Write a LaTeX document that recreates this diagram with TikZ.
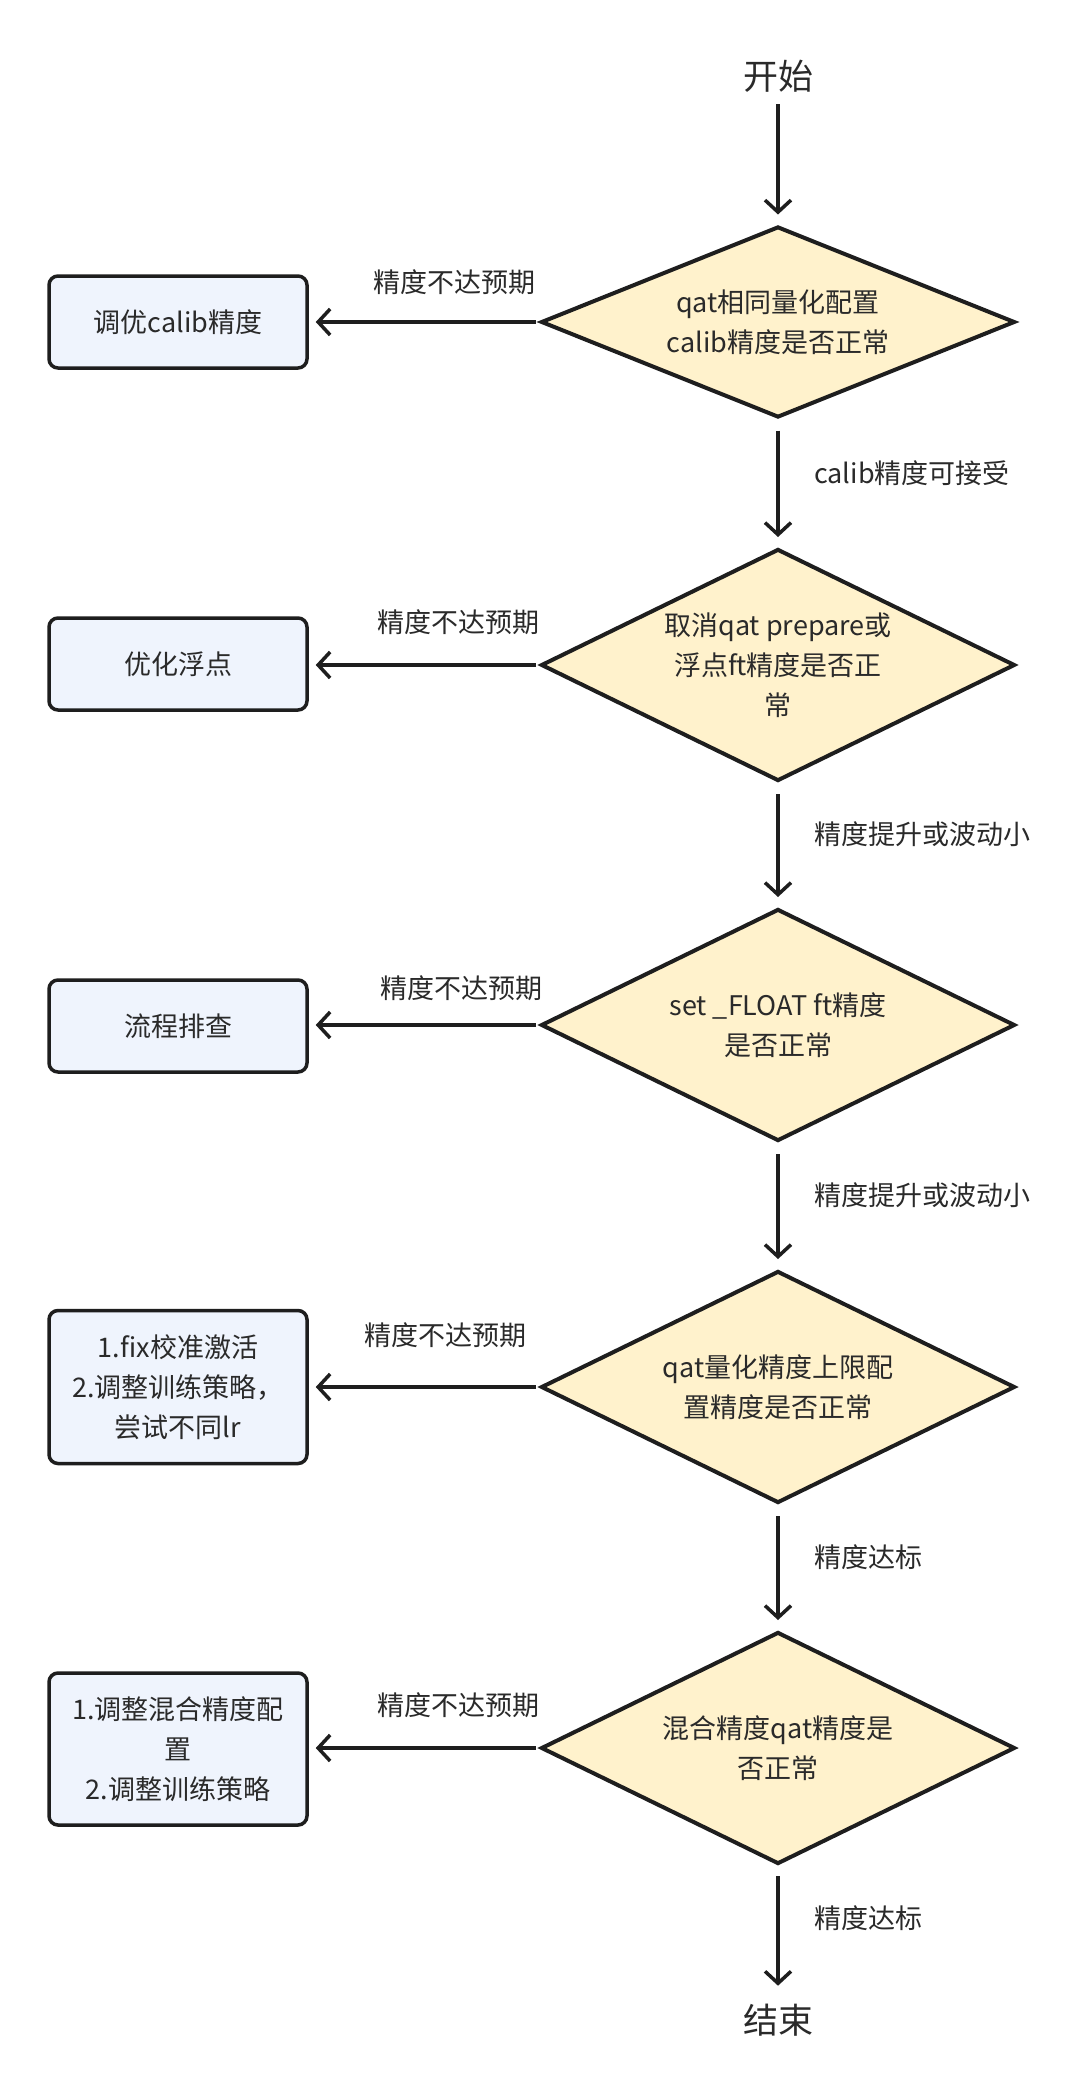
\documentclass[tikz,border=0pt]{standalone}
\usepackage{fontspec}
\setmainfont{Noto Sans CJK SC}
\usetikzlibrary{shapes.geometric,arrows.meta}
\definecolor{dfill}{HTML}{FFF2CC}
\definecolor{bfill}{HTML}{EFF4FD}
\definecolor{ink}{HTML}{1E1E1E}
\definecolor{txt}{HTML}{2A2A2A}
\begin{document}
\begin{tikzpicture}[x=1pt,y=-1pt,
  every node/.style={text=txt, font=\fontsize{27}{40}\selectfont},
  dec/.style={shape=diamond, aspect=2.04, draw=ink, fill=dfill, line width=4pt, minimum width=474pt, minimum height=232pt, inner sep=0pt, align=center},
  act/.style={rectangle, rounded corners=9pt, draw=ink, fill=bfill, line width=3.5pt, minimum width=258pt, align=center},
  arr/.style={draw=ink, line width=3.5pt, -{Straight Barb[length=12pt,width=26pt]}},
  lbl/.style={inner sep=0pt},
  term/.style={inner sep=0pt, font=\fontsize{35}{40}\selectfont},
]
\fill[white] (0,0) rectangle (1088,2092);
\useasboundingbox (0,0) rectangle (1088,2092);

\node[term] (start) at (778,76) {开始};
\node[term] (end) at (778,2020) {结束};

\node[dec, minimum height=191pt] (d1) at (778,322) {qat相同量化配置\\calib精度是否正常};
\node[dec] (d2) at (778,665) {取消qat prepare或\\浮点ft精度是否正\\常};
\node[dec] (d3) at (778,1025) {set \_FLOAT ft精度\\是否正常};
\node[dec] (d4) at (778,1387) {qat量化精度上限配\\置精度是否正常};
\node[dec] (d5) at (778,1748) {混合精度qat精度是\\否正常};

\node[act, minimum height=92pt] (b1) at (178,322) {调优calib精度};
\node[act, minimum height=92pt] (b2) at (178,664) {优化浮点};
\node[act, minimum height=92pt] (b3) at (178,1026) {流程排查};
\node[act, minimum height=153pt] (b4) at (178,1387) {1.fix校准激活\\2.调整训练策略，\\尝试不同lr};
\node[act, minimum height=152pt] (b5) at (178,1749) {1.调整混合精度配\\置\\2.调整训练策略};

\draw[arr, shorten <=12pt, shorten >=10pt] (start) -- (d1);
\draw[arr, shorten <=11pt, shorten >=10pt] (d1) -- (d2);
\draw[arr, shorten <=11pt, shorten >=10pt] (d2) -- (d3);
\draw[arr, shorten <=11pt, shorten >=10pt] (d3) -- (d4);
\draw[arr, shorten <=11pt, shorten >=10pt] (d4) -- (d5);
\draw[arr, shorten <=10pt, shorten >=18pt] (d5) -- (end);

\foreach \i in {1,...,5}{
  \draw[arr, shorten <=3pt, shorten >=7pt] (d\i.west) -- (d\i.west -| b\i.east);
}

\node[lbl] (l1) at (454,282) {精度不达预期};
\node[lbl] (l2) at (458,622) {精度不达预期};
\node[lbl] (l3) at (461,988) {精度不达预期};
\node[lbl] (l4) at (445,1335) {精度不达预期};
\node[lbl] (l5) at (458,1705) {精度不达预期};

\node[lbl, anchor=west] (v1) at (814,473) {calib精度可接受};
\node[lbl, anchor=west] (v2) at (814,834) {精度提升或波动小};
\node[lbl, anchor=west] (v3) at (814,1195) {精度提升或波动小};
\node[lbl, anchor=west] (v4) at (814,1557) {精度达标};
\node[lbl, anchor=west] (v5) at (814,1918) {精度达标};
\end{tikzpicture}
\end{document}
